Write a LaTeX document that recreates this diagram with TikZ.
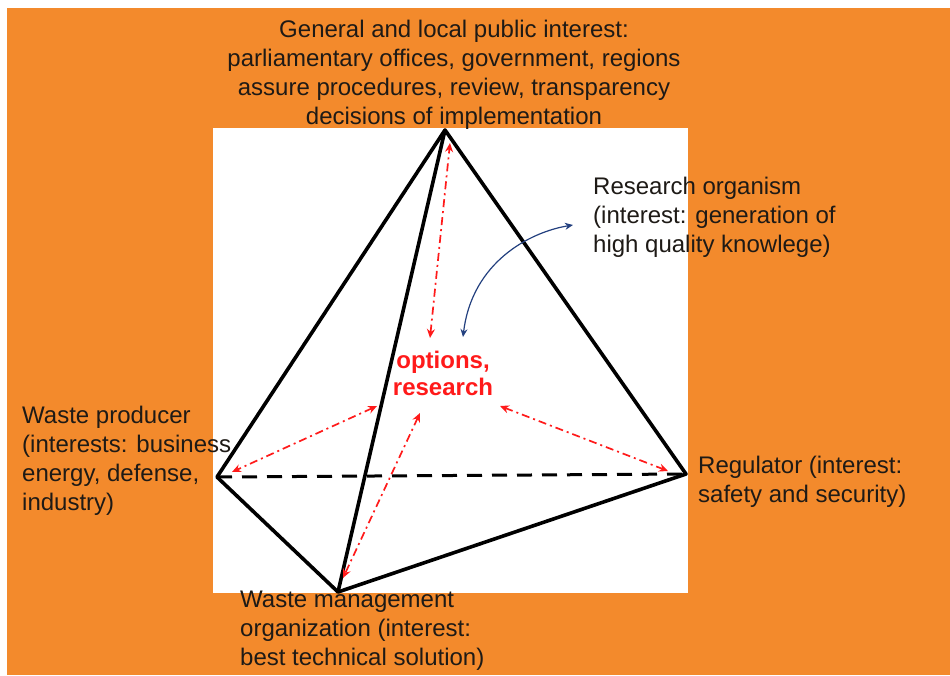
\documentclass[tikz,border=0pt]{standalone}
\usepackage{fontspec}
\setmainfont{Liberation Sans}
\usepackage{xcolor}
\usetikzlibrary{arrows.meta,positioning,calc}
\definecolor{bgOrange}{HTML}{F38A2C}
\definecolor{optRed}{HTML}{FF1A1A}
\definecolor{linkBlue}{HTML}{23407F}
\definecolor{inkT}{HTML}{1E1A16}
\tikzset{
  actor/.style={font=\fontsize{24}{28.8}\selectfont, text=inkT, inner sep=0pt, align=left},
  edge/.style={line width=3.6pt, line join=round, color=black},
  hidden/.style={line width=3pt, color=black, dash pattern=on 15pt off 10pt},
  link/.style={{Stealth[length=9pt,width=8pt]}-{Stealth[length=9pt,width=8pt]},
               line width=1.7pt, color=optRed,
               dash pattern=on 8pt off 4pt on 2pt off 4pt},
  feedback/.style={{Stealth[length=8pt,width=7pt]}-{Stealth[length=8pt,width=7pt]},
                   line width=1.2pt, color=linkBlue},
}

\begin{document}
\begin{tikzpicture}[x=1pt, y=-1pt]
  \useasboundingbox (0,0) rectangle (950,675);
  % background
  \fill[bgOrange] (7,8) rectangle (950,675);
  \fill[white] (213,128) rectangle (688,593);
  % vertices
  \coordinate (apex) at (445,130);
  \coordinate (vleft) at (217,477);
  \coordinate (vbot) at (338,592);
  \coordinate (vright) at (686,474);
  % tetrahedron
  \draw[hidden] (vleft) -- (vright);
  \draw[edge] (vleft) -- (apex) -- (vright) -- (vbot) -- cycle;
  \draw[edge] (apex) -- (vbot);
  % labels (anchored at last baseline)
  \node[actor, align=center, anchor=base] (pubint) at (454,124)
    {General and local public interest:\\parliamentary offices, government, regions\\assure procedures, review, transparency\\decisions of implementation};
  \node[actor, anchor=base west] (producer) at (22,510)
    {Waste producer\\(interests: business\\energy, defense,\\industry)};
  \node[actor, anchor=base west] (resorg) at (593,252)
    {Research organism\\(interest: generation of\\high quality knowlege)};
  \node[actor, anchor=base west] (regul) at (698,502)
    {Regulator (interest:\\safety and security)};
  \node[actor, anchor=base west] (wmo) at (240,665)
    {Waste management\\organization (interest:\\best technical solution)};
  \node[actor, align=center, anchor=base, text=optRed,
        font=\fontsize{24}{27}\selectfont\bfseries] (options) at (443,395)
    {options,\\research};
  % arrow ends
  \coordinate (tTop) at (450,143);
  \coordinate (tLeft) at (232,472);
  \coordinate (tBot) at (343,578);
  \coordinate (tRight) at (668,471);
  \coordinate (tRes) at (573,225);
  \coordinate (oTop) at (430,338);
  \coordinate (oLeft) at (377,406);
  \coordinate (oBot) at (420,413);
  \coordinate (oRight) at (500,406);
  \coordinate (oRes) at (463,337);
  % links
  \draw[link] (oTop) -- (tTop);
  \draw[link] (oLeft) -- (tLeft);
  \draw[link] (oBot) -- (tBot);
  \draw[link] (oRight) -- (tRight);
  \draw[feedback] (tRes) .. controls (530,232) and (472,262) .. (oRes);
\end{tikzpicture}
\end{document}
